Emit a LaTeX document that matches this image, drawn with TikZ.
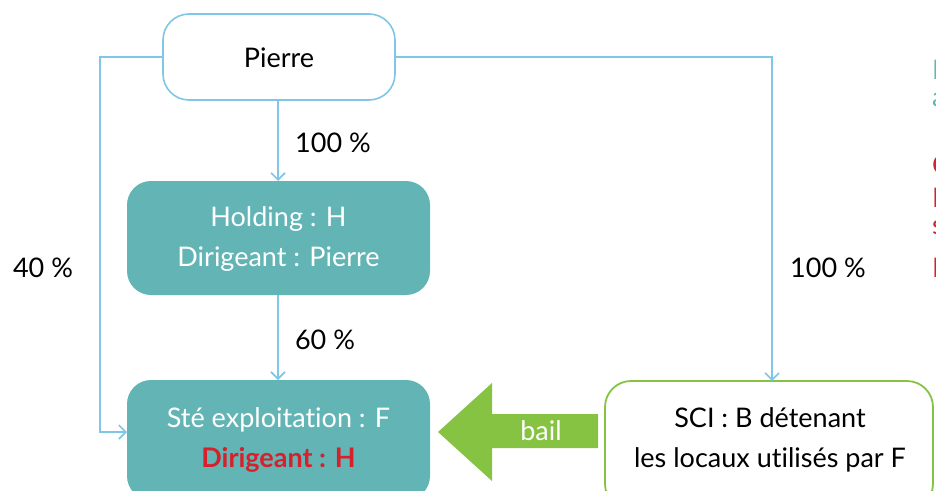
\documentclass[tikz,border=0pt]{standalone}
\usepackage{fontspec}
\setmainfont{Lato}[Ligatures=NoCommon]
\usetikzlibrary{arrows.meta}
\definecolor{linkblue}{RGB}{128,198,230}
\definecolor{tealbox}{RGB}{99,181,181}
\definecolor{leafgreen}{RGB}{135,195,66}
\definecolor{alertred}{RGB}{214,32,44}
\begin{document}
\begin{tikzpicture}[x=1pt,y=-1pt,
  every node/.style={font=\fontsize{27}{34}\selectfont, inner sep=0pt},
  whitebox/.style={draw=linkblue, line width=1.6pt, fill=white, rounded corners=26pt},
  tealblock/.style={fill=tealbox, rounded corners=24pt},
  scibox/.style={draw=leafgreen, line width=1.8pt, fill=white, rounded corners=26pt},
  link/.style={draw=linkblue, line width=1.6pt, -{Straight Barb[length=7pt,width=14pt,line width=1.6pt]}},
  pct/.style={text=black}
]
\useasboundingbox (0,0) rectangle (936,490);
\begin{scope}
\clip (0,0) rectangle (936,490);

% boxes
\draw[whitebox] (163,14) rectangle (395,100);
\node (pierre) at (279,58) {Pierre};
\coordinate (pierreB) at (278,100);
\coordinate (pierreL) at (163,57);
\coordinate (pierreR) at (395,57);

\fill[tealblock] (127,181) rectangle (430,295);
\node[text=white, align=center] (holding) at (278.5,239) {Holding : H\\[6pt]Dirigeant : Pierre};
\coordinate (holdT) at (278,181);
\coordinate (holdB) at (278,295);

\fill[tealblock] (127,380) rectangle (430,500);
\node[text=white, align=center] (expl) at (278.5,440)
  {Sté exploitation : F\\[6pt]\textcolor{alertred}{\bfseries Dirigeant : H}};
\coordinate (explT) at (278,380);
\coordinate (explL) at (127,432);

\draw[scibox] (605,381) rectangle (933,510);
\node[align=center] (sci) at (770,440) {SCI : B détenant\\[6pt]les locaux utilisés par F};
\coordinate (sciT) at (772,381);

% ownership links
\draw[link] (pierreB) -- (holdT);
\node[pct] (p1) at (333,143) {100 \%};
\draw[link] (holdB) -- (explT);
\node[pct] (p2) at (325,340) {60 \%};
\draw[link] (pierreL) -- (100,57) -- (100,432) -- (explL);
\node[pct] (p3) at (43,268) {40 \%};
\draw[link] (pierreR) -- (772,57) -- (sciT);
\node[pct] (p4) at (828,268) {100 \%};

% lease arrow
\fill[leafgreen] (598,414) -- (492,414) -- (492,383) -- (438,432) -- (492,481) -- (492,448) -- (598,448) -- cycle;
\node[text=white] (bail) at (541,431) {bail};

% side notes running past the edge
\node[anchor=west, text=tealbox] (n1) at (932,70) {L};
\node[anchor=west, text=tealbox] (n2) at (932,100) {a};
\node[anchor=west, text=alertred] (n3) at (932,165) {C};
\node[anchor=west, text=alertred] (n4) at (932,198) {L};
\node[anchor=west, text=alertred] (n5) at (932,228) {s};
\node[anchor=west, text=alertred] (n6) at (932,268) {L};
\end{scope}
\end{tikzpicture}
\end{document}
